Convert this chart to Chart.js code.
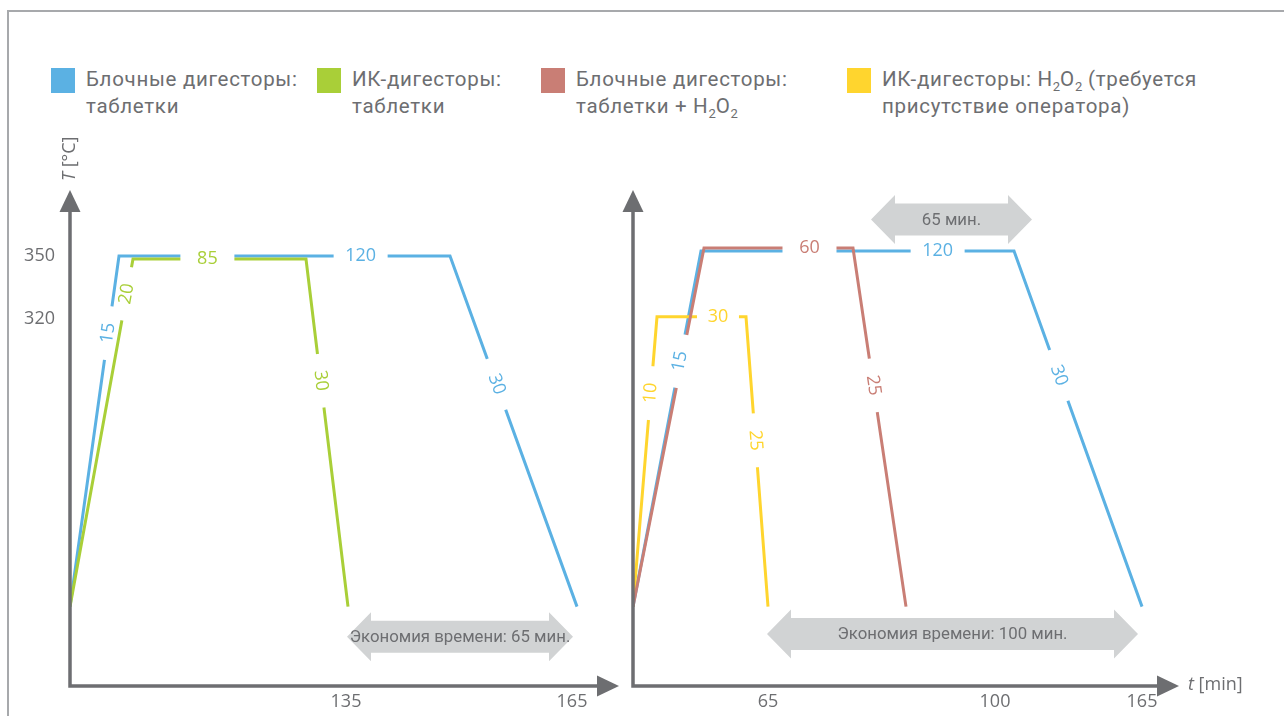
<!DOCTYPE html>
<html>
<head>
<meta charset="utf-8">
<script src="https://cdn.jsdelivr.net/npm/chart.js@4.4.1/dist/chart.umd.min.js"></script>
<style>
html, body { margin: 0; padding: 0; background: #fff; }
#page { position: relative; width: 1284px; height: 716px; overflow: hidden; font-family: Roboto, "Liberation Sans", sans-serif; }
#frame { position: absolute; left: 7px; top: 10px; right: -4px; bottom: -4px; border-top: 2px solid #a7a9ac; border-left: 2px solid #a7a9ac; }
.key { position: absolute; top: 66px; font-size: 20.5px; letter-spacing: 0.7px; line-height: 27px; color: #6d6e71; white-space: nowrap; }
.key i { position: absolute; left: -35px; top: 2px; width: 24px; height: 25px; }
.key sub { font-size: 13px; vertical-align: -5px; line-height: 0; letter-spacing: 0; }
canvas { position: absolute; top: 0; }
</style>
</head>
<body>
<div id="page">
  <div id="frame"></div>
  <div id="legend"></div>
  <canvas id="left" width="642" height="716" style="left:0"></canvas>
  <canvas id="right" width="664" height="716" style="left:620px"></canvas>
</div>
<script>
// schematic diagram: x = position along the time axis (not to scale), y = temperature
// left panel: tablets only
var leftBlueX  = [0, 49, 380, 507];
var leftBlueT  = [183, 350, 350, 183];
var leftGreenX = [0, 63, 236, 278];
var leftGreenT = [183, 348.5, 348.5, 183];
// right panel: with H2O2
var rightBlueX   = [0, 68, 381, 509];
var rightBlueT   = [183, 352.4, 352.4, 183];
var rightRedX    = [0, 71, 220, 273];
var rightRedT    = [183, 353.8, 353.8, 183];
var rightYellowX = [0, 24, 113, 135];
var rightYellowT = [183, 321, 321, 183];

// minutes written on each segment (ramp, hold, cool down)
var leftBlueMin    = ['15', '120', '30'];
var leftGreenMin   = ['20', '85', '30'];
var rightBlueMin   = ['15', '120', '30'];
var rightRedMin    = [null, '60', '25'];
var rightYellowMin = ['10', '30', '25'];

var yTicks = [320, 350];
var leftXTicks = [276, 502];
var leftXTickLabels = ['135', '165'];
var rightXTicks = [135, 362, 509];
var rightXTickLabels = ['65', '100', '165'];

var legendNames = [
  'Блочные дигесторы:<br>таблетки',
  'ИК-дигесторы:<br>таблетки',
  'Блочные дигесторы:<br>таблетки + H<sub>2</sub>O<sub>2</sub>',
  'ИК-дигесторы: H<sub>2</sub>O<sub>2</sub> (требуется<br>присутствие оператора)'
];

var BLUE = '#5bb1e3', GREEN = '#a9cf38', RED = '#c97e75', YELLOW = '#ffd52e';
var AXIS = '#6d6e71', ARROW = '#d1d3d4';
var NUMFONT = '18px "Open Sans", sans-serif';

var legendLeft = [86, 352, 576, 882];
var legendColors = [BLUE, GREEN, RED, YELLOW];
var lg = document.getElementById('legend');
legendNames.forEach(function (name, i) {
  var d = document.createElement('div');
  d.className = 'key';
  d.style.left = legendLeft[i] + 'px';
  d.innerHTML = '<i style="background:' + legendColors[i] + '"></i>' + name;
  lg.appendChild(d);
});

function pts(xs, ys) {
  return xs.map(function (x, i) { return { x: x, y: ys[i] }; });
}

function line(data, color, mins, where, gaps) {
  return { data: data, borderColor: color, borderWidth: 3, pointRadius: 0, tension: 0,
           borderJoinStyle: 'miter', fill: false, mins: mins, where: where, gaps: gaps || [] };
}

function doubleArrow(ctx, x0, x1, yc, text) {
  var sh = 16, hh = 24.5, hl = 24;
  ctx.save();
  ctx.fillStyle = ARROW;
  ctx.beginPath();
  ctx.moveTo(x0, yc);
  ctx.lineTo(x0 + hl, yc - hh); ctx.lineTo(x0 + hl, yc - sh);
  ctx.lineTo(x1 - hl, yc - sh); ctx.lineTo(x1 - hl, yc - hh);
  ctx.lineTo(x1, yc);
  ctx.lineTo(x1 - hl, yc + hh); ctx.lineTo(x1 - hl, yc + sh);
  ctx.lineTo(x0 + hl, yc + sh); ctx.lineTo(x0 + hl, yc + hh);
  ctx.closePath();
  ctx.fill();
  ctx.fillStyle = AXIS;
  ctx.font = '16.8px Roboto, sans-serif';
  ctx.textAlign = 'center';
  ctx.textBaseline = 'middle';
  ctx.fillText(text, (x0 + x1) / 2, yc + 1);
  ctx.restore();
}

var diagram = {
  id: 'diagram',
  beforeDatasetsDraw: function (chart, args, opts) {
    var ctx = chart.ctx, xs = chart.scales.x, ys = chart.scales.y;
    opts.arrows.forEach(function (a) {
      doubleArrow(ctx, xs.getPixelForValue(a.from), xs.getPixelForValue(a.to), ys.getPixelForValue(a.y), a.text);
    });
  },
  afterDatasetsDraw: function (chart, args, opts) {
    var ctx = chart.ctx, xs = chart.scales.x, ys = chart.scales.y, a = chart.chartArea;
    ctx.save();
    // axes with arrow heads
    ctx.strokeStyle = AXIS; ctx.fillStyle = AXIS; ctx.lineWidth = 3.5;
    ctx.beginPath();
    ctx.moveTo(a.left, a.top + 18);
    ctx.lineTo(a.left, a.bottom);
    ctx.lineTo(a.right - 18, a.bottom);
    ctx.stroke();
    ctx.beginPath();
    ctx.moveTo(a.left, a.top); ctx.lineTo(a.left - 10.5, a.top + 22); ctx.lineTo(a.left + 10.5, a.top + 22);
    ctx.fill();
    ctx.beginPath();
    ctx.moveTo(a.right, a.bottom); ctx.lineTo(a.right - 22, a.bottom - 10.5); ctx.lineTo(a.right - 22, a.bottom + 10.5);
    ctx.fill();

    // tick labels
    ctx.font = NUMFONT;
    ctx.textBaseline = 'middle';
    if (opts.yTicks) {
      ctx.textAlign = 'right';
      opts.yTicks.forEach(function (v) { ctx.fillText(String(v), a.left - 15, ys.getPixelForValue(v)); });
    }
    ctx.textAlign = 'center';
    opts.xTicks.forEach(function (v, i) { ctx.fillText(opts.xLabels[i], xs.getPixelForValue(v), a.bottom + 16); });

    // axis titles
    if (opts.yTitle) {
      ctx.save();
      ctx.translate(a.left, a.top - 9);
      ctx.rotate(-Math.PI / 2);
      ctx.textAlign = 'left';
      ctx.font = 'italic 18px "Open Sans", sans-serif';
      ctx.fillText('T', 0, 0);
      var w = ctx.measureText('T').width;
      ctx.font = NUMFONT;
      ctx.fillText(' [°C]', w, 0);
      ctx.restore();
    }
    if (opts.xTitle) {
      ctx.textAlign = 'left';
      ctx.font = 'italic 18px "Open Sans", sans-serif';
      ctx.fillText('t', a.right + 9, a.bottom - 1);
      var w2 = ctx.measureText('t').width;
      ctx.font = NUMFONT;
      ctx.fillText(' [min]', a.right + 9 + w2, a.bottom - 1);
    }

    // segment durations sitting in gaps of the lines
    chart.data.datasets.forEach(function (ds) {
      ds.mins.forEach(function (txt, s) {
        if (!txt) return;
        var p0 = ds.data[s], p1 = ds.data[s + 1];
        var x0 = xs.getPixelForValue(p0.x), y0 = ys.getPixelForValue(p0.y);
        var x1 = xs.getPixelForValue(p1.x), y1 = ys.getPixelForValue(p1.y);
        var t = ds.where[s];
        var x = x0 + (x1 - x0) * t, y = y0 + (y1 - y0) * t;
        var ang = Math.atan2(y1 - y0, x1 - x0);
        if (ang > Math.PI / 2) ang -= Math.PI;
        if (ang < -Math.PI / 2) ang += Math.PI;
        var gap = ds.gaps[s] || 54;
        ctx.save();
        ctx.translate(x, y);
        ctx.rotate(ang);
        ctx.fillStyle = '#fff';
        ctx.fillRect(-gap / 2, -6, gap, 12);
        ctx.fillStyle = ds.borderColor;
        ctx.font = NUMFONT;
        ctx.textAlign = 'center';
        ctx.textBaseline = 'middle';
        ctx.fillText(txt, 0, 0);
        ctx.restore();
      });
    });
    ctx.restore();
  }
};

function makeChart(id, datasets, pad, xMax, opts) {
  return new Chart(document.getElementById(id), {
    type: 'line',
    data: { datasets: datasets },
    options: {
      responsive: false,
      animation: false,
      events: [],
      layout: { padding: pad },
      scales: {
        x: { type: 'linear', display: false, min: 0, max: xMax },
        y: { type: 'linear', display: false, min: 145.2, max: 381.4 }
      },
      plugins: { legend: { display: false }, tooltip: { enabled: false }, diagram: opts }
    },
    plugins: [diagram]
  });
}

makeChart('left', [
  line(pts(leftGreenX, leftGreenT), GREEN, leftGreenMin, [0.90, 0.43, 0.35]),
  line(pts(leftBlueX, leftBlueT), BLUE, leftBlueMin, [0.78, 0.73, 0.366])
], { left: 70, right: 23, top: 190, bottom: 30 }, 549, {
  yTicks: yTicks, xTicks: leftXTicks, xLabels: leftXTickLabels, yTitle: true, xTitle: false,
  arrows: [{ from: 277, to: 503, y: 168.6, text: 'Экономия времени: 65 мин.' }]
});

makeChart('right', [
  line(pts(rightRedX, rightRedT), RED, rightRedMin, [0, 0.708, 0.383]),
  line(pts(rightYellowX, rightYellowT), YELLOW, rightYellowMin, [0.737, 0.685, 0.426], [0, 42, 0]),
  line(pts(rightBlueX, rightBlueT), BLUE, rightBlueMin, [0.69, 0.756, 0.35])
], { left: 13, right: 105, top: 190, bottom: 30 }, 546, {
  yTicks: null, xTicks: rightXTicks, xLabels: rightXTickLabels, yTitle: false, xTitle: true,
  arrows: [
    { from: 134, to: 505, y: 170, text: 'Экономия времени: 100 мин.' },
    { from: 238, to: 399, y: 367.4, text: '65 мин.' }
  ]
});
</script>
</body>
</html>
